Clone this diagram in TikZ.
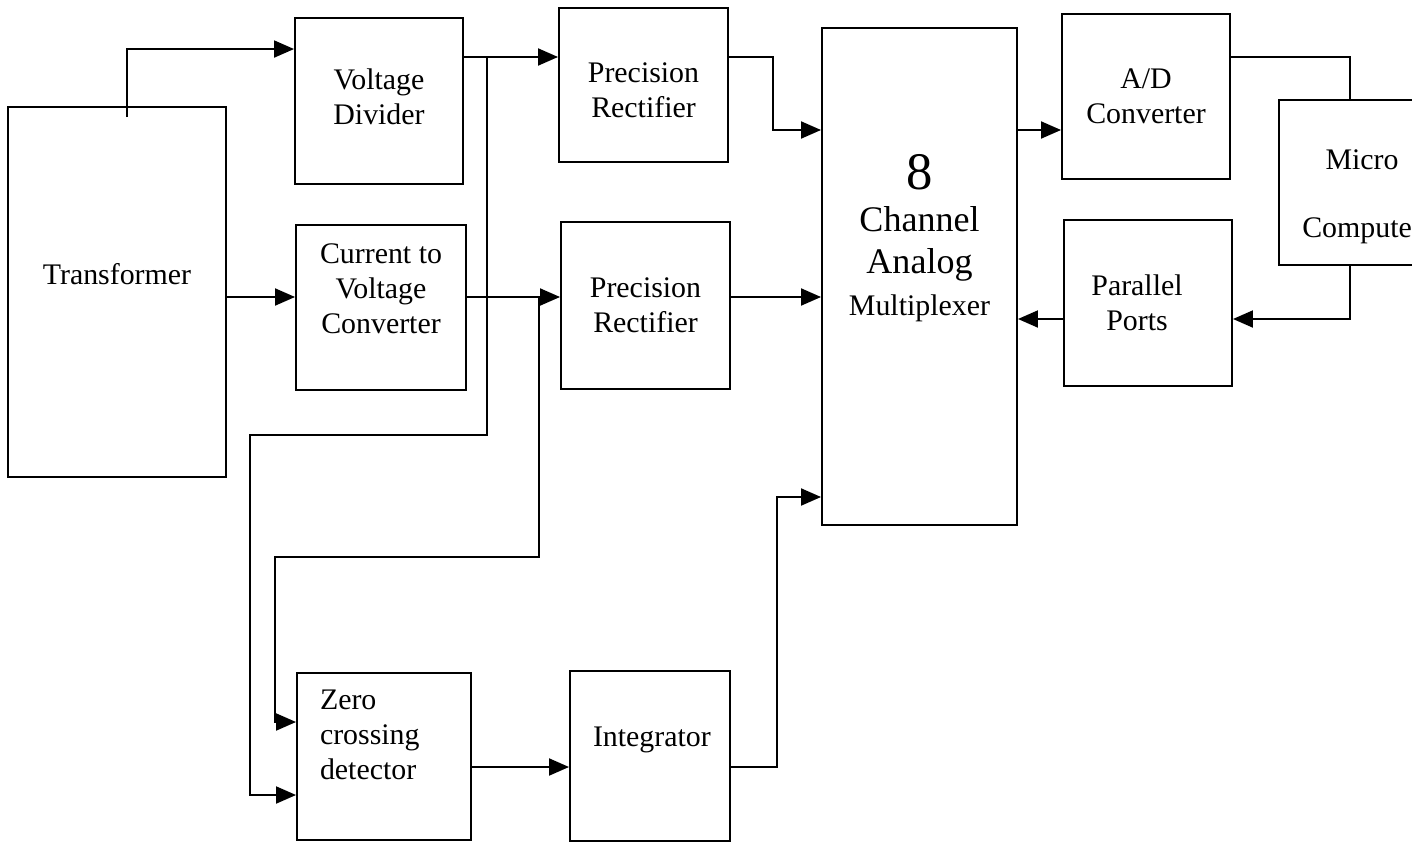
\documentclass[tikz,border=0pt]{standalone}
\usepackage{fontspec}
\setmainfont{Liberation Serif}
\usetikzlibrary{arrows.meta}
\tikzset{
  blk/.style={draw, inner sep=0pt},
  txt/.style={inner sep=0pt, align=center, font=\fontsize{17}{20}\selectfont},
  >={Triangle[length=0.4cm,width=0.34cm]},
}
\begin{document}
\begin{tikzpicture}[line width=1.1pt]
\clip (0,0) rectangle (28.24,-16.86);
% Blocks
\node[blk, minimum width=4.36cm, minimum height=7.4cm] (trans) at (2.34,-5.84) {};
\node[blk, minimum width=3.36cm, minimum height=3.32cm] (vdiv) at (7.58,-2.02) {};
\node[blk, minimum width=3.4cm, minimum height=3.3cm] (cvc) at (7.62,-6.15) {};
\node[blk, minimum width=3.38cm, minimum height=3.08cm] (rect1) at (12.87,-1.70) {};
\node[blk, minimum width=3.38cm, minimum height=3.34cm] (rect2) at (12.91,-6.11) {};
\node[blk, minimum width=3.9cm, minimum height=9.94cm] (mux) at (18.39,-5.53) {};
\node[blk, minimum width=3.36cm, minimum height=3.3cm] (adc) at (22.92,-1.93) {};
\node[blk, minimum width=3.36cm, minimum height=3.32cm] (ports) at (22.96,-6.06) {};
\node[blk, minimum width=3.32cm, minimum height=3.3cm] (micro) at (27.24,-3.65) {};
\node[blk, minimum width=3.48cm, minimum height=3.34cm] (zcd) at (7.68,-15.13) {};
\node[blk, minimum width=3.2cm, minimum height=3.4cm] (integ) at (13.0,-15.12) {};
% Labels
\node[txt] (transtxt) at ([yshift=0.36cm]trans.center) {Transformer};
\node[txt] (vdivtxt) at ([yshift=0.08cm]vdiv.center) {Voltage\\Divider};
\node[txt] (cvctxt) at ([yshift=0.37cm]cvc.center) {Current to\\Voltage\\Converter};
\node[txt] (rect1txt) at ([yshift=-0.1cm]rect1.center) {Precision\\Rectifier};
\node[txt] (rect2txt) at (rect2.center) {Precision\\Rectifier};
\node[txt, font=\fontsize{17}{24}\selectfont] (muxtxt) at ([yshift=0.77cm]mux.center)
  {{\fontsize{30}{30}\selectfont 8}\\{\fontsize{20.5}{24}\selectfont Channel}\\{\fontsize{20.5}{24}\selectfont Analog}\\Multiplexer};
\node[txt] (adctxt) at (adc.center) {A/D\\Converter};
\node[txt] (portstxt) at ([xshift=-0.22cm]ports.center) {Parallel\\Ports};
\node[txt] (microtxt) at ([yshift=-0.29cm]micro.center) {Micro\\[0.66cm]Computer};
\node[txt, align=left, anchor=north west] (zcdtxt) at ([xshift=0.46cm,yshift=-0.34cm]zcd.north west) {Zero\\crossing\\detector};
\node[txt, anchor=west] (integtxt) at ([xshift=0.46cm,yshift=0.32cm]integ.west) {Integrator};
% Junctions and bends
\coordinate (j1) at (9.74,-1.14);
\coordinate (j2) at (10.78,-5.94);
\coordinate (b1a) at (9.74,-8.70);
\coordinate (b1b) at (5.0,-15.9);
\coordinate (b2a) at (10.78,-11.14);
\coordinate (b2b) at (5.5,-14.44);
\coordinate (k3) at (15.46,-2.6);
\coordinate (k4) at (15.54,-9.94);
\coordinate (zrow) at (0,-15.34);
\coordinate (j5) at (27.0,-1.14);
\coordinate (j6) at (27.0,-6.38);
% Connections
\draw[->] ([xshift=0.2cm,yshift=-0.22cm]trans.north) |- ([yshift=-0.64cm]vdiv.north west);
\draw[->] (trans.east |- j2) -- (cvc.west |- j2);
\draw[->] (vdiv.east |- j1) -- (rect1.west |- j1);
\draw[->] (cvc.east |- j2) -- (rect2.west |- j2);
\draw[->] (j1) -- (b1a) -| (b1b) -- (zcd.west |- b1b);
\draw[->] (j2) -- (b2a) -| (b2b) -- (zcd.west |- b2b);
\draw[->] (rect1.east |- j1) -| (k3) -- (mux.west |- k3);
\draw[->] (rect2.east |- j2) -- (mux.west |- j2);
\draw[->] (zcd.east |- zrow) -- (integ.west |- zrow);
\draw[->] (integ.east |- zrow) -| (k4) -- (mux.west |- k4);
\draw[->] (mux.east |- k3) -- (adc.west |- k3);
\draw (adc.east |- j5) -- (j5) -- (micro.north -| j5);
\draw[->] (micro.south -| j6) -- (j6) -- (ports.east |- j6);
\draw[->] (ports.west |- j6) -- (mux.east |- j6);
\end{tikzpicture}
\end{document}
